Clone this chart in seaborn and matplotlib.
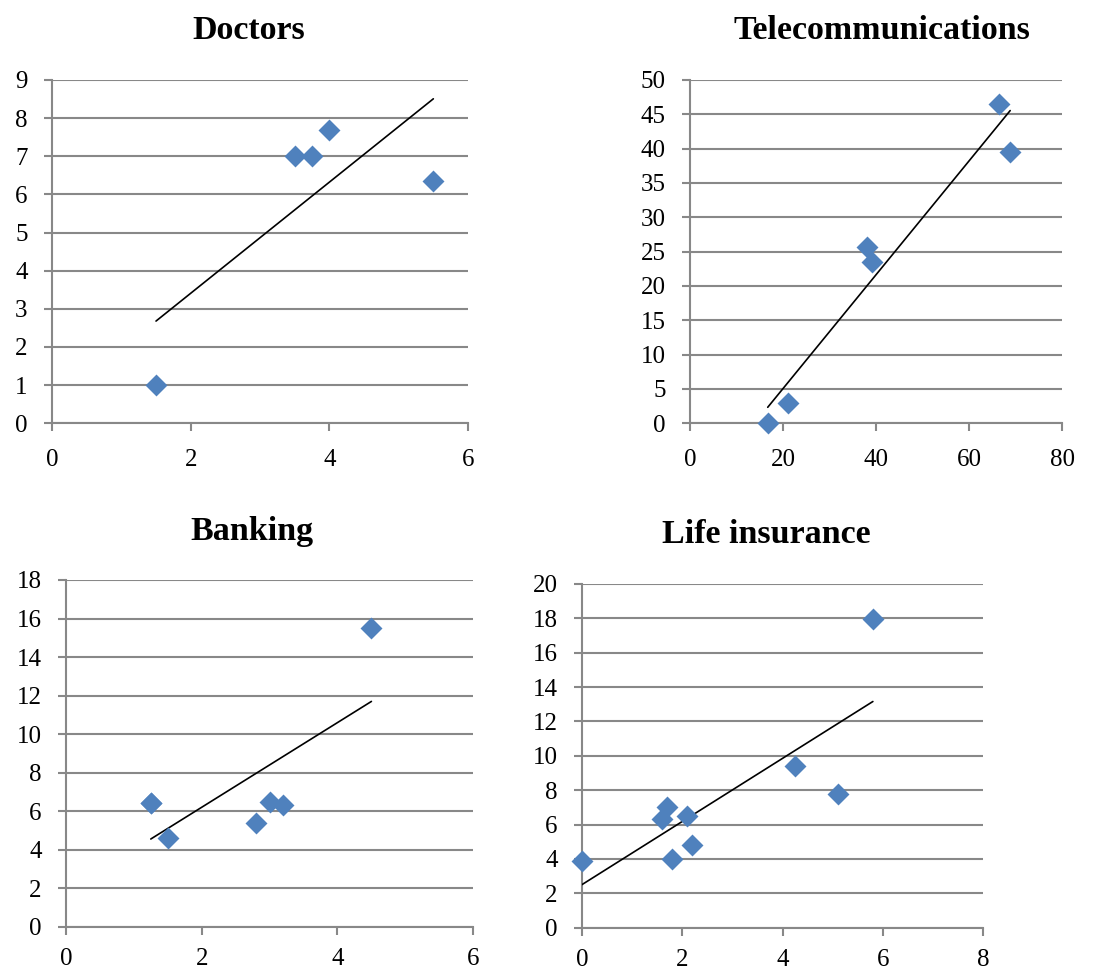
import matplotlib
matplotlib.use("Agg")
import matplotlib.pyplot as plt
import seaborn as sns
import pandas as pd

# Survey data per sector
doctors_x = [1.5, 3.5, 3.75, 4.0, 5.5]
doctors_y = [1.0, 7.0, 7.0, 7.7, 6.35]

telecom_x = [16.7, 21.0, 38.1, 39.0, 66.4, 68.8]
telecom_y = [0.0, 3.0, 25.7, 23.5, 46.5, 39.5]

banking_x = [1.25, 1.25, 1.5, 2.8, 3.0, 3.2, 4.5]
banking_y = [6.4, 6.4, 4.6, 5.4, 6.5, 6.3, 15.5]

life_x = [0.0, 1.6, 1.7, 1.8, 2.1, 2.2, 4.25, 5.1, 5.8]
life_y = [3.9, 6.3, 7.0, 4.0, 6.5, 4.8, 9.4, 7.8, 17.95]

titles = ["Doctors", "Telecommunications", "Banking", "Life insurance"]
x_ticks = [[0, 2, 4, 6], [0, 20, 40, 60, 80], [0, 2, 4, 6], [0, 2, 4, 6, 8]]
y_ticks = [list(range(0, 10)), list(range(0, 55, 5)),
           list(range(0, 20, 2)), list(range(0, 22, 2))]

sns.set_theme(style="white")
plt.rcParams["font.family"] = ["Liberation Serif", "DejaVu Serif"]
plt.rcParams["text.color"] = "black"

BLUE = "#4F81BD"
GRID = "#888888"

fig = plt.figure(figsize=(11.14, 9.71), dpi=100)

# axes rectangles: left, bottom, width, height (figure fractions)
rects = [
    [0.0467, 0.5641, 0.3734, 0.3536],
    [0.6194, 0.5641, 0.3342, 0.3536],
    [0.0592, 0.0456, 0.3656, 0.3571],
    [0.5224, 0.0446, 0.3602, 0.3540],
]
# title centre x (px) and baseline y (px from top)
title_pos = [(249, 39), (882, 39), (252, 540), (766, 543)]
# x tick label padding: top row, bottom row
x_pads = [13, 13, 9.5, 9.5]

datasets = [(doctors_x, doctors_y), (telecom_x, telecom_y),
            (banking_x, banking_y), (life_x, life_y)]

W, H = 1114, 971
for i, ((xs, ys), rect) in enumerate(zip(datasets, rects)):
    ax = fig.add_axes(rect)
    df = pd.DataFrame({"x": xs, "y": ys})
    # least-squares trend line over the data range
    sns.regplot(data=df, x="x", y="y", ax=ax, scatter=False, ci=None,
                truncate=True, line_kws={"color": "black", "lw": 1.2,
                                         "zorder": 3})
    sns.scatterplot(data=df, x="x", y="y", ax=ax, marker="D", s=125,
                    color=BLUE, linewidth=0, zorder=4, clip_on=False)
    ax.set_xlim(x_ticks[i][0], x_ticks[i][-1])
    ax.set_ylim(y_ticks[i][0], y_ticks[i][-1])
    ax.set_xticks(x_ticks[i])
    ax.set_yticks(y_ticks[i])
    ax.set_xlabel("")
    ax.set_ylabel("")
    ax.set_axisbelow(True)
    ax.yaxis.grid(True, color=GRID, lw=1.5)
    ax.xaxis.grid(False)
    for side in ("top", "right"):
        ax.spines[side].set_visible(False)
    for side in ("left", "bottom"):
        ax.spines[side].set_color(GRID)
        ax.spines[side].set_linewidth(1.5)
    ax.tick_params(axis="both", which="major", direction="out", length=5.5,
                   width=1.5, color=GRID, labelsize=18, labelcolor="black")
    ax.tick_params(axis="y", pad=12, left=True)
    ax.tick_params(axis="x", pad=x_pads[i], bottom=True)
    tx, ty = title_pos[i]
    fig.text(tx / W, 1 - ty / H, titles[i], ha="center", va="baseline",
             fontsize=24.5, fontweight="bold", color="black")

fig.savefig("out.png", dpi=100)
